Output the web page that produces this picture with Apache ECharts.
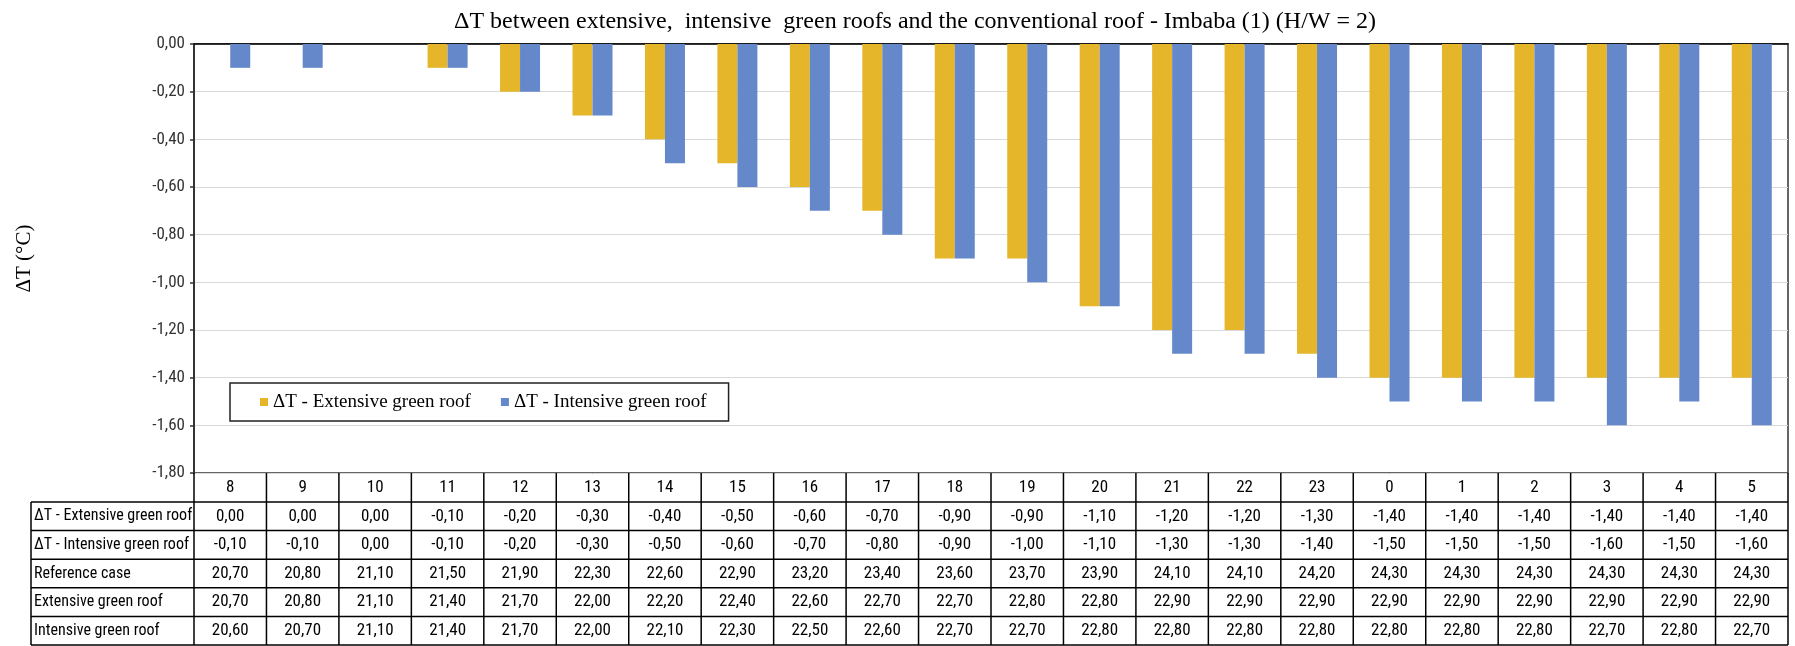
<!DOCTYPE html>
<html>
<head>
<meta charset="utf-8">
<script src="https://cdn.jsdelivr.net/npm/echarts@6/dist/echarts.min.js"></script>
<style>
html,body{margin:0;padding:0;background:#fff;}
#main{width:1795px;height:646px;}
</style>
</head>
<body>
<div id="main"></div>
<script>
var hours = ['8','9','10','11','12','13','14','15','16','17','18','19','20','21','22','23','0','1','2','3','4','5'];
var dtExtensive = [0,0,0,-0.1,-0.2,-0.3,-0.4,-0.5,-0.6,-0.7,-0.9,-0.9,-1.1,-1.2,-1.2,-1.3,-1.4,-1.4,-1.4,-1.4,-1.4,-1.4];
var dtIntensive = [-0.1,-0.1,0,-0.1,-0.2,-0.3,-0.5,-0.6,-0.7,-0.8,-0.9,-1.0,-1.1,-1.3,-1.3,-1.4,-1.5,-1.5,-1.5,-1.6,-1.5,-1.6];
var referenceCase = [20.7,20.8,21.1,21.5,21.9,22.3,22.6,22.9,23.2,23.4,23.6,23.7,23.9,24.1,24.1,24.2,24.3,24.3,24.3,24.3,24.3,24.3];
var extensiveRoof = [20.7,20.8,21.1,21.4,21.7,22.0,22.2,22.4,22.6,22.7,22.7,22.8,22.8,22.9,22.9,22.9,22.9,22.9,22.9,22.9,22.9,22.9];
var intensiveRoof = [20.6,20.7,21.1,21.4,21.7,22.0,22.1,22.3,22.5,22.6,22.7,22.7,22.8,22.8,22.8,22.8,22.8,22.8,22.8,22.7,22.8,22.7];
var rowLabels = ['\u0394T - Extensive green roof','\u0394T - Intensive green roof','Reference case','Extensive green roof','Intensive green roof'];
var seriesNames = ['\u0394T - Extensive green roof','\u0394T - Intensive green roof'];
var titleText = '\u0394T between extensive,  intensive  green roofs and the conventional roof - Imbaba (1) (H/W = 2)';
var yName = '\u0394T (\u00B0C)';

var SANS = '"Liberation Sans Narrow","Arial Narrow","Roboto Condensed","Liberation Sans",sans-serif';
var SERIF = '"Liberation Serif","Times New Roman",serif';
function fmt(v){ return v.toFixed(2).replace('.', ','); }

var chart = echarts.init(document.getElementById('main'), null, {renderer:'canvas'});
var option = {
  animation:false,
  backgroundColor:'#fff',
  title:{
    text:titleText, left:910, top:5, textAlign:'center',
    textStyle:{fontFamily:SERIF, fontSize:24, fontWeight:'normal', color:'#000'}
  },
  legend:{
    left:230, top:383,
    padding:[9,22,9,30],
    itemGap:30,
    itemWidth:8, itemHeight:8,
    icon:'rect',
    borderColor:'#222', borderWidth:1.5,
    backgroundColor:'#fff',
    textStyle:{fontFamily:SERIF, fontSize:19, color:'#000', lineHeight:20}
  },
  grid:{
    left:194, right:7, top:44, bottom:173,
    show:true, borderColor:'#333', borderWidth:1.5, backgroundColor:'transparent'
  },
  xAxis:{
    type:'category', data:hours, position:'bottom',
    axisLine:{show:true, lineStyle:{color:'#000', width:1.5}},
    axisTick:{show:false},
    axisLabel:{fontFamily:SANS, fontSize:17, color:'#000', margin:6, interval:0},
    splitLine:{show:false}
  },
  yAxis:{
    type:'value', min:-1.8, max:0, interval:0.2,
    name:yName, nameLocation:'middle', nameGap:147, nameRotate:90,
    nameTextStyle:{fontFamily:SERIF, fontSize:21, color:'#000', padding:[0,0,12,0]},
    axisLine:{show:true, lineStyle:{color:'#333', width:2}},
    axisTick:{show:true, length:4, lineStyle:{color:'#333', width:1.5}},
    axisLabel:{fontFamily:SANS, fontSize:17, color:'#333', margin:9, formatter:function(v){return fmt(v);}},
    splitLine:{show:true, lineStyle:{color:'#d9d9d9', width:1}}
  },
  series:[
    {name:seriesNames[0], type:'bar', data:dtExtensive, barWidth:20, barGap:'0%', itemStyle:{color:'#E5B52A'}},
    {name:seriesNames[1], type:'bar', data:dtIntensive, barWidth:20, barGap:'0%', itemStyle:{color:'#6588CA'}}
  ]
};
chart.setOption(option);

// data table drawn under the category axis, positioned from the axes
var rows = [dtExtensive, dtIntensive, referenceCase, extensiveRoof, intensiveRoof];
var c0 = chart.convertToPixel({xAxisIndex:0}, 0);
var c1 = chart.convertToPixel({xAxisIndex:0}, 1);
var band = c1 - c0;
var yBot = chart.convertToPixel({yAxisIndex:0}, -1.8);
var xLeft = c0 - band/2;
var xRight = chart.convertToPixel({xAxisIndex:0}, hours.length-1) + band/2;
var headerH = 29, rowH = 28.6, labelLeft = 31;
var tableBottom = yBot + headerH + rowH*rows.length;
var els = [];
var lineStyle = {stroke:'#000', lineWidth:1.5};
function ln(x1,y1,x2,y2){ els.push({type:'line', silent:true, z:10, shape:{x1:x1,y1:y1,x2:x2,y2:y2}, style:lineStyle}); }
for (var i=0;i<=hours.length;i++){
  var x = xLeft + band*i;
  ln(x, yBot, x, tableBottom);
}
ln(labelLeft, yBot+headerH, labelLeft, tableBottom);
for (var r=0;r<=rows.length;r++){
  var y = yBot + headerH + rowH*r;
  ln(labelLeft, y, xRight, y);
}
for (var r=0;r<rows.length;r++){
  var yc = yBot + headerH + rowH*(r+0.5);
  els.push({type:'text', silent:true, z:11, x:labelLeft+3, y:yc,
    style:{text:rowLabels[r], font:'16px '+SANS, fill:'#000', align:'left', verticalAlign:'middle'}});
  for (var i=0;i<hours.length;i++){
    var xc = chart.convertToPixel({xAxisIndex:0}, i);
    els.push({type:'text', silent:true, z:11, x:xc, y:yc,
      style:{text:fmt(rows[r][i]), font:'17px '+SANS, fill:'#000', align:'center', verticalAlign:'middle'}});
  }
}
chart.setOption({graphic:{elements:els}});
</script>
</body>
</html>
